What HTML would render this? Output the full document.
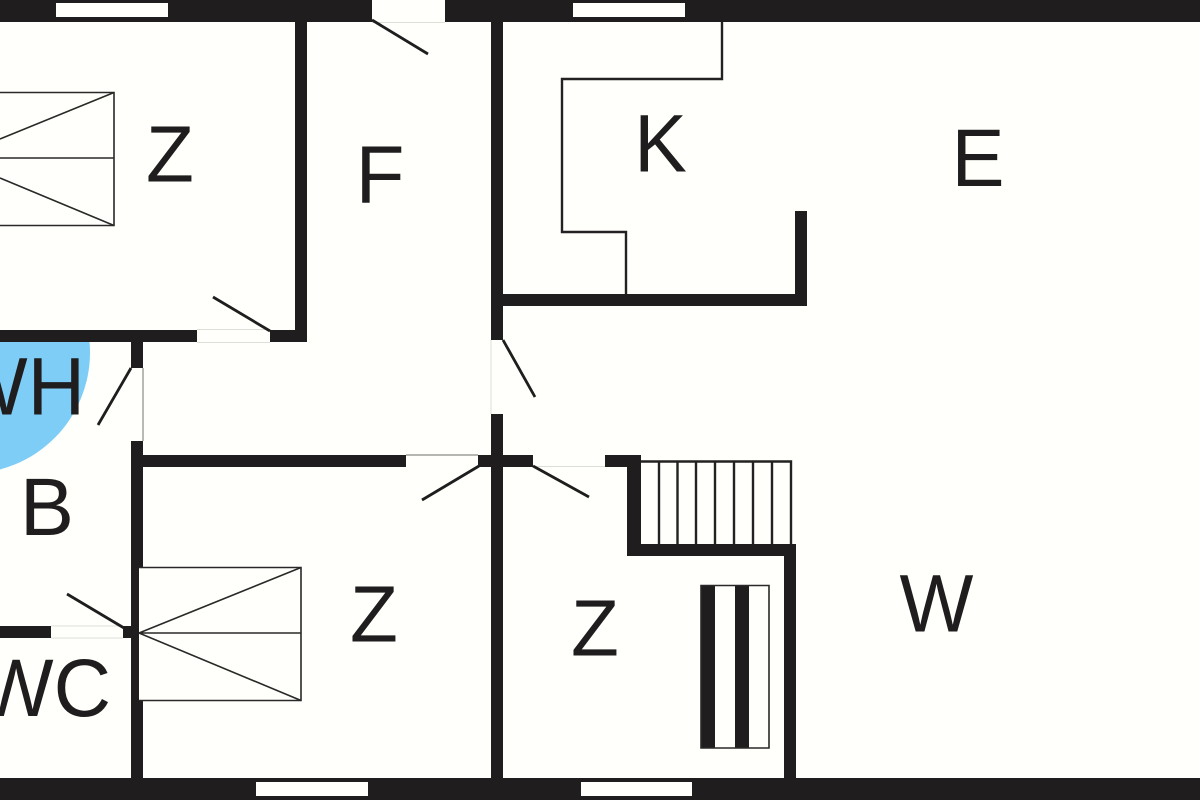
<!DOCTYPE html>
<html>
<head>
<meta charset="utf-8">
<style>
html,body{margin:0;padding:0;background:#fffffb;}
svg{display:block;}
text{font-family:"Liberation Sans",sans-serif;font-size:82px;fill:#1f1d1d;text-anchor:middle;}
</style>
</head>
<body>
<svg width="1200" height="800" viewBox="0 0 1200 800" xmlns="http://www.w3.org/2000/svg">
<defs><clipPath id="c"><rect x="0" y="342" width="200" height="200"/></clipPath></defs>
<rect width="1200" height="800" fill="#fffffb"/>
<!-- blue circle -->
<circle cx="-31" cy="352.500" r="121" fill="#7dcdf6" clip-path="url(#c)"/>
<g fill="#1f1d1d">
<!-- outer walls -->
<rect x="0" y="0" width="372" height="22"/>
<rect x="445" y="0" width="755" height="22"/>
<rect x="0" y="778" width="1200" height="22"/>
<!-- central -->
<rect x="491" y="22" width="12" height="318"/>
<rect x="491" y="414" width="12" height="364"/>
<rect x="478" y="455" width="55" height="12"/>
<!-- upper left -->
<rect x="295" y="22" width="12" height="320"/>
<rect x="0" y="330" width="197" height="12"/>
<rect x="270" y="330" width="37" height="12"/>
<rect x="131" y="342" width="12" height="26"/>
<rect x="131" y="441" width="12" height="337"/>
<rect x="131" y="455" width="275" height="12"/>
<!-- wc -->
<rect x="0" y="626" width="51" height="12"/>
<rect x="123" y="626" width="8" height="12"/>
<!-- kitchen -->
<rect x="503" y="294" width="304" height="12"/>
<rect x="795" y="211" width="12" height="95"/>
<!-- stair walls -->
<rect x="605" y="455" width="34" height="12"/>
<rect x="627" y="455" width="14" height="101"/>
<rect x="627" y="544" width="169" height="12"/>
<rect x="784" y="544" width="12" height="234"/>
<!-- mattress stripes -->
<rect x="701" y="585" width="14" height="163"/>
<rect x="735" y="585" width="14" height="163"/>
</g>
<!-- windows -->
<g fill="#fffffb">
<rect x="56" y="3" width="112" height="14"/>
<rect x="573" y="3" width="112" height="14"/>
<rect x="256" y="782" width="112" height="14"/>
<rect x="581" y="782" width="111" height="14"/>
</g>
<!-- door thresholds -->
<g fill="none" stroke="#deded9" stroke-width="1">
<path d="M372 22.500H445"/>
<path d="M197 329.500H270M197 342.500H270"/>
<path d="M491 340V414"/>
<path d="M533 466.500H605"/>
<path d="M51 626H123M51 638H123"/>
</g>
<path d="M143 368V441" stroke="#8a8a88" stroke-width="1.200"/>
<path d="M406 455H478" stroke="#8a8a88" stroke-width="1.200"/>
<!-- door leaves -->
<g stroke="#1f1d1d" stroke-width="2.800" fill="none">
<path d="M372 20L428 54"/>
<path d="M213 297L270 331"/>
<path d="M503 340L535 397"/>
<path d="M479 466L422 500"/>
<path d="M533 466L589 497"/>
<path d="M131 368L98 425"/>
<path d="M124 628L67 594"/>
</g>
<!-- thin lines -->
<g stroke="#232121" stroke-width="2.400" fill="none">
<path d="M722 22V79H562V232H626V294"/>
<path d="M641 461.500H791V544"/>
<path d="M659 461V544M677.500 461V544M696 461V544M715 461V544M734 461V544M753 461V544M772 461V544"/>
</g>
<g stroke="#2a2828" stroke-width="1.600" fill="#fffffb">
<path d="M139 567V700.500H301V567Z" stroke="none"/>
<path d="M139 567.500H301V700.500H139" fill="none"/>
<path d="M139 633H301M139 633L301 567.500M139 633L301 700.500" fill="none"/>
<path d="M0 92.500H114V225.500H0" fill="none"/>
<path d="M0 158H114M0 139L114 92.500M0 178L114 225.500" fill="none"/>
<path d="M701 585.500H769V748H701Z" fill="none"/>
</g>
<!-- labels -->
<text transform="translate(170 181.500) scale(.98 1)" style="font-size:80px">Z</text>
<text transform="translate(380 203) scale(.975 1)">F</text>
<text transform="translate(660.500 171.500) scale(.965 1)">K</text>
<text transform="translate(978 186) scale(.97 1)">E</text>
<text transform="translate(85 414.500) scale(.97 1)" style="text-anchor:end">WH</text>
<text transform="translate(47 535) scale(.99 1)">B</text>
<text transform="translate(111 716) scale(.97 1)" style="text-anchor:end">WC</text>
<text transform="translate(374 641.500) scale(.98 1)" style="font-size:80px">Z</text>
<text transform="translate(595 655.500) scale(.98 1)" style="font-size:80px">Z</text>
<text transform="translate(936.500 631.500) scale(.955 1)">W</text>
</svg>
</body>
</html>
